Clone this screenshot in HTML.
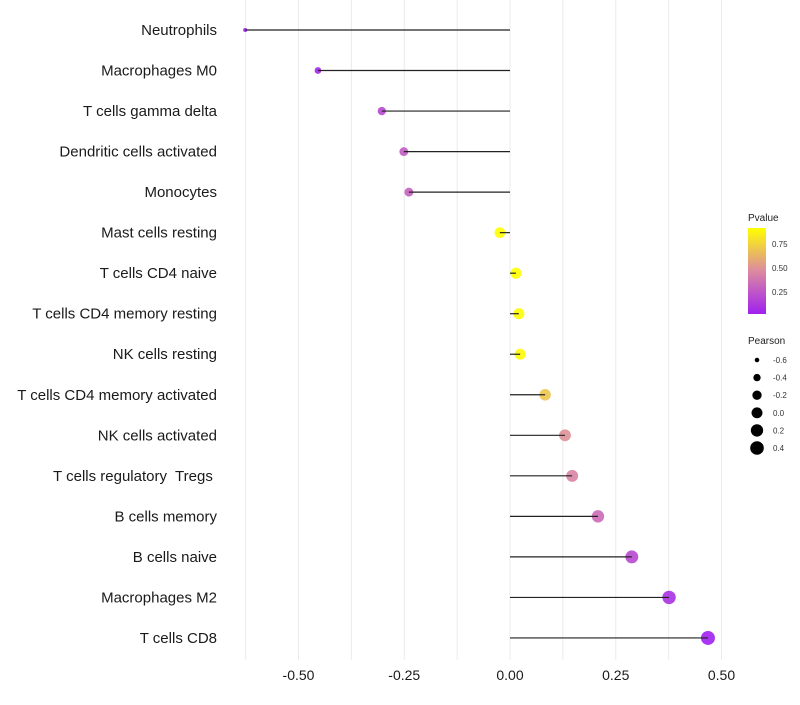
<!DOCTYPE html>
<html><head><meta charset="utf-8"><style>
body{margin:0;background:#fff;}
svg text{font-family:"Liberation Sans",sans-serif;white-space:pre;}
</style></head><body>
<svg id="chart" width="800" height="700">
<g id="grid"></g>
<g id="marks"></g>
<g id="stems"></g>
<g id="ylab"></g>
<g id="xlab"></g>
<g>
<defs><linearGradient id="pg" x1="0" y1="1" x2="0" y2="0">
<stop offset="0" stop-color="#a020f0"/><stop offset="0.5" stop-color="#dc8aa0"/><stop offset="1" stop-color="#ffff00"/></linearGradient></defs>
<text x="748" y="221" font-size="10" fill="#222">Pvalue</text>
<rect x="748" y="228" width="18" height="86" fill="url(#pg)"/>
<text x="772" y="247" font-size="8" fill="#333">0.75</text>
<text x="772" y="271" font-size="8" fill="#333">0.50</text>
<text x="772" y="295" font-size="8" fill="#333">0.25</text>
</g>
<g id="sizeleg">
<text x="748" y="344" font-size="10" fill="#222">Pearson</text>
</g>
</svg>
<script>
const categories=["Neutrophils","Macrophages M0","T cells gamma delta","Dendritic cells activated","Monocytes","Mast cells resting","T cells CD4 naive","T cells CD4 memory resting","NK cells resting","T cells CD4 memory activated","NK cells activated","T cells regulatory  Tregs ","B cells memory","B cells naive","Macrophages M2","T cells CD8"];
const pearson=[-0.626,-0.454,-0.303,-0.251,-0.239,-0.024,0.014,0.021,0.024,0.083,0.13,0.147,0.208,0.288,0.376,0.468];
const pvalues=[0.03,0.05,0.2,0.28,0.3,0.92,0.92,0.91,0.9,0.7,0.5,0.45,0.35,0.2,0.1,0.03];
const xTicks=[-0.5,-0.25,0,0.25,0.5];
const xTickLabels=["-0.50","-0.25","0.00","0.25","0.50"];
const sizeLegend=[-0.6,-0.4,-0.2,0.0,0.2,0.4];
const sizeLegendLabels=["-0.6","-0.4","-0.2","0.0","0.2","0.4"];
const NS="http://www.w3.org/2000/svg";
const x=v=>510+423*v;
const y=i=>30+i*40.53;
const r=v=>Math.sqrt(Math.max(1,4+41*(v+0.63)));
function lerp(a,b,t){return a.map((c,k)=>Math.round(c+(b[k]-c)*t));}
function col(p){const P=[160,32,240],M=[220,138,160],Y=[255,255,0];
 const t=(p-0.03)/(0.92-0.03);const c=t<0.5?lerp(P,M,Math.max(0,t)*2):lerp(M,Y,Math.min(1,(t-0.5)*2));return `rgb(${c})`;}
function mk(tag,at,parent){const e=document.createElementNS(NS,tag);for(const k in at)e.setAttribute(k,at[k]);parent.appendChild(e);return e;}
const grid=document.getElementById('grid');
for(let v=-0.625;v<=0.51;v+=0.125){
 const g=mk('line',{x1:x(v),x2:x(v),y1:0,y2:660,stroke:'#ebebeb','stroke-width':1},grid);
 
 
}
const marks=document.getElementById('marks'),stems=document.getElementById('stems'),yl=document.getElementById('ylab'),xl=document.getElementById('xlab');
categories.forEach((c,i)=>{
 const d=mk('circle',{cx:x(pearson[i]),cy:y(i),r:r(pearson[i]),fill:col(pvalues[i]),'fill-opacity':0.9},marks);
 
 
 const l=mk('line',{x1:x(0),x2:x(pearson[i]),y1:y(i),y2:y(i),stroke:'#222','stroke-width':1.2},stems);
 
 
 const t=mk('text',{x:217,y:y(i)+5,'text-anchor':'end','font-size':15,fill:'#1a1a1a'},yl);
 t.textContent=c;
 
 
});
xTicks.forEach((v,i)=>{
 const t=mk('text',{x:x(v),y:680,'text-anchor':'middle','font-size':14,fill:'#1a1a1a'},xl);
 t.textContent=xTickLabels[i];
 
 
});
const sl=document.getElementById('sizeleg');
sizeLegend.forEach((v,i)=>{
 const cy=360+i*17.6;
 const c=mk('circle',{cx:757,cy:cy,r:r(v),fill:'#000'},sl);
 
 
 const t=mk('text',{x:773,y:cy+3,'font-size':8,fill:'#333'},sl);
 t.textContent=sizeLegendLabels[i];
 
 
});
</script>
</body></html>
